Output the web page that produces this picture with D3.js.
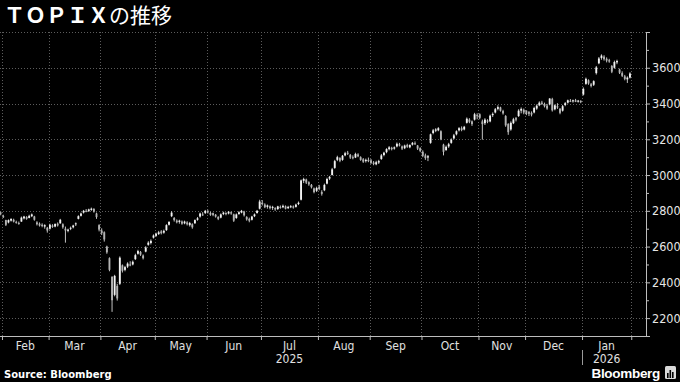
<!DOCTYPE html>
<html>
<head>
<meta charset="utf-8">
<script src="https://cdn.jsdelivr.net/npm/d3@7"></script>
<style>
  body { margin: 0; background: #000; }
  .ax text { font-family: "DejaVu Sans Condensed", "DejaVu Sans", sans-serif; font-stretch: condensed; }
</style>
</head>
<body>
<svg id="chart" width="680" height="382"></svg>
<script>
// daily candles, [open, high, low, close], one array per month (trading days only)
const jan25 = [[2790, 2795, 2775, 2788]];
const feb25 = [
  [2770, 2778, 2760, 2765], [2748, 2750, 2715, 2722], [2735, 2752, 2730, 2748], [2745, 2758, 2740, 2755],
  [2750, 2756, 2735, 2740], [2738, 2745, 2728, 2735], [2732, 2740, 2722, 2728], [2740, 2768, 2738, 2762],
  [2758, 2772, 2752, 2768], [2765, 2770, 2750, 2755], [2760, 2778, 2758, 2772], [2770, 2785, 2765, 2780],
  [2768, 2772, 2745, 2750], [2735, 2742, 2718, 2725], [2728, 2735, 2712, 2718], [2722, 2730, 2708, 2715],
  [2712, 2725, 2700, 2720], [2705, 2710, 2678, 2690]];
const mar25 = [
  [2700, 2728, 2695, 2722], [2718, 2725, 2705, 2710], [2712, 2730, 2708, 2726], [2728, 2735, 2712, 2718],
  [2730, 2755, 2728, 2750], [2725, 2730, 2700, 2708], [2700, 2712, 2622, 2690], [2688, 2700, 2680, 2695],
  [2700, 2712, 2692, 2705], [2708, 2722, 2702, 2718], [2725, 2735, 2715, 2730], [2755, 2775, 2752, 2770],
  [2772, 2790, 2768, 2785], [2790, 2805, 2785, 2800], [2800, 2810, 2792, 2796], [2798, 2812, 2794, 2808],
  [2805, 2818, 2800, 2812], [2810, 2815, 2790, 2795], [2785, 2790, 2755, 2765], [2720, 2725, 2685, 2695]];
const apr25 = [
  [2690, 2702, 2665, 2675], [2680, 2685, 2628, 2640], [2600, 2605, 2560, 2568], [2535, 2540, 2462, 2470],
  [2430, 2435, 2235, 2300], [2330, 2442, 2322, 2436], [2380, 2392, 2298, 2310], [2392, 2545, 2385, 2538],
  [2495, 2500, 2455, 2465], [2470, 2492, 2462, 2485], [2488, 2512, 2480, 2505], [2500, 2518, 2490, 2496],
  [2500, 2522, 2495, 2515], [2530, 2560, 2525, 2552], [2560, 2582, 2555, 2575], [2570, 2575, 2548, 2555],
  [2550, 2556, 2528, 2535], [2572, 2602, 2568, 2595], [2610, 2630, 2605, 2622], [2620, 2640, 2612, 2632],
  [2650, 2668, 2645, 2662]];
const may25 = [
  [2660, 2678, 2655, 2672], [2670, 2688, 2665, 2680], [2685, 2692, 2668, 2675], [2678, 2695, 2672, 2688],
  [2692, 2725, 2688, 2720], [2722, 2742, 2718, 2738], [2770, 2798, 2765, 2790], [2760, 2765, 2740, 2748],
  [2745, 2752, 2730, 2736], [2738, 2750, 2728, 2745], [2740, 2746, 2722, 2728], [2730, 2745, 2725, 2740],
  [2735, 2742, 2718, 2725], [2720, 2738, 2712, 2732], [2725, 2730, 2700, 2708], [2730, 2752, 2728, 2748],
  [2750, 2765, 2745, 2758], [2768, 2790, 2762, 2785], [2780, 2792, 2772, 2776], [2788, 2805, 2782, 2800]];
const jun25 = [
  [2798, 2806, 2785, 2792], [2788, 2795, 2772, 2778], [2780, 2790, 2770, 2785], [2778, 2782, 2762, 2768],
  [2765, 2770, 2748, 2755], [2762, 2785, 2758, 2780], [2782, 2795, 2776, 2790], [2788, 2792, 2775, 2782],
  [2785, 2798, 2780, 2795], [2792, 2796, 2778, 2785], [2780, 2784, 2738, 2745], [2760, 2785, 2755, 2780],
  [2782, 2798, 2778, 2792], [2790, 2805, 2786, 2800], [2795, 2800, 2768, 2775], [2765, 2770, 2745, 2752],
  [2755, 2762, 2736, 2745], [2750, 2772, 2746, 2768], [2770, 2785, 2765, 2780], [2788, 2805, 2784, 2800],
  [2812, 2862, 2808, 2852]];
const jul25 = [
  [2845, 2860, 2830, 2838], [2835, 2842, 2815, 2820], [2822, 2835, 2812, 2830], [2825, 2830, 2808, 2815],
  [2818, 2828, 2805, 2822], [2815, 2820, 2800, 2808], [2810, 2828, 2805, 2825], [2822, 2830, 2812, 2818],
  [2820, 2835, 2815, 2828], [2825, 2830, 2808, 2812], [2815, 2828, 2810, 2822], [2820, 2832, 2815, 2826],
  [2824, 2830, 2812, 2818], [2822, 2840, 2818, 2835], [2838, 2852, 2832, 2845], [2862, 2975, 2858, 2970],
  [2968, 2985, 2955, 2978], [2975, 2980, 2950, 2958], [2960, 2965, 2940, 2948], [2945, 2950, 2925, 2932],
  [2925, 2930, 2898, 2905], [2912, 2935, 2905, 2928]];
const aug25 = [
  [2935, 2945, 2915, 2922], [2905, 2915, 2885, 2895], [2915, 2952, 2910, 2945], [2952, 2985, 2948, 2978],
  [2980, 2995, 2972, 2990], [3000, 3040, 2998, 3032], [3040, 3085, 3035, 3078], [3085, 3108, 3078, 3100],
  [3095, 3100, 3072, 3080], [3085, 3112, 3080, 3108], [3110, 3130, 3105, 3122], [3125, 3135, 3112, 3118],
  [3112, 3118, 3090, 3098], [3100, 3110, 3088, 3095], [3098, 3125, 3095, 3118], [3115, 3122, 3100, 3105],
  [3100, 3105, 3080, 3085], [3088, 3095, 3068, 3075], [3078, 3092, 3070, 3085], [3085, 3098, 3072, 3078]];
const sep25 = [
  [3082, 3090, 3062, 3068], [3070, 3078, 3055, 3062], [3060, 3080, 3055, 3072], [3070, 3085, 3062, 3078],
  [3090, 3118, 3085, 3110], [3112, 3130, 3105, 3125], [3128, 3150, 3122, 3145], [3145, 3162, 3138, 3155],
  [3152, 3158, 3138, 3145], [3148, 3160, 3142, 3155], [3160, 3182, 3155, 3175], [3172, 3180, 3160, 3165],
  [3160, 3165, 3140, 3148], [3150, 3170, 3145, 3165], [3168, 3175, 3152, 3158], [3155, 3172, 3150, 3168],
  [3170, 3185, 3165, 3180], [3178, 3188, 3168, 3175], [3165, 3168, 3140, 3148], [3150, 3155, 3128, 3135]];
const oct25 = [
  [3130, 3138, 3100, 3108], [3110, 3120, 3085, 3095], [3098, 3112, 3078, 3105], [3180, 3232, 3175, 3228],
  [3235, 3258, 3228, 3250], [3248, 3262, 3240, 3255], [3250, 3268, 3245, 3262], [3245, 3250, 3195, 3200],
  [3170, 3175, 3110, 3130], [3140, 3165, 3135, 3158], [3160, 3180, 3152, 3172], [3180, 3205, 3175, 3198],
  [3205, 3230, 3200, 3222], [3228, 3250, 3222, 3245], [3250, 3268, 3244, 3262], [3262, 3272, 3245, 3252],
  [3255, 3275, 3250, 3270], [3292, 3322, 3288, 3315], [3310, 3318, 3290, 3298], [3300, 3305, 3275, 3285],
  [3310, 3348, 3305, 3340], [3335, 3345, 3312, 3330]];
const nov25 = [
  [3340, 3345, 3312, 3320], [3300, 3310, 3198, 3285], [3290, 3318, 3280, 3310], [3305, 3312, 3290, 3298],
  [3300, 3338, 3295, 3332], [3335, 3350, 3325, 3342], [3350, 3375, 3345, 3368], [3370, 3390, 3362, 3380],
  [3378, 3382, 3355, 3360], [3358, 3365, 3338, 3345], [3330, 3335, 3270, 3278], [3285, 3290, 3225, 3240],
  [3255, 3300, 3248, 3292], [3290, 3320, 3285, 3312], [3318, 3325, 3300, 3310], [3330, 3368, 3325, 3360],
  [3360, 3378, 3345, 3370], [3365, 3372, 3340, 3350]];
const dec25 = [
  [3360, 3362, 3335, 3342], [3345, 3358, 3330, 3350], [3348, 3356, 3328, 3338], [3350, 3382, 3345, 3375],
  [3372, 3395, 3365, 3388], [3390, 3412, 3385, 3405], [3405, 3415, 3392, 3398], [3398, 3405, 3378, 3385],
  [3388, 3398, 3365, 3372], [3395, 3430, 3390, 3428], [3425, 3432, 3355, 3362], [3368, 3395, 3362, 3390],
  [3385, 3402, 3370, 3378], [3370, 3375, 3340, 3348], [3360, 3392, 3355, 3385], [3392, 3408, 3385, 3402],
  [3405, 3422, 3400, 3418], [3415, 3425, 3408, 3412], [3412, 3422, 3405, 3418], [3418, 3426, 3408, 3410],
  [3412, 3420, 3405, 3416], [3415, 3418, 3402, 3408]];
const jan26 = [
  [3450, 3490, 3445, 3482], [3510, 3545, 3505, 3538], [3530, 3535, 3505, 3512], [3508, 3515, 3490, 3498],
  [3505, 3530, 3498, 3525], [3570, 3610, 3562, 3602], [3625, 3660, 3620, 3652], [3655, 3675, 3645, 3668],
  [3662, 3670, 3640, 3648], [3650, 3658, 3630, 3640], [3642, 3650, 3628, 3635], [3610, 3615, 3570, 3578],
  [3600, 3640, 3595, 3632], [3630, 3645, 3620, 3638], [3590, 3595, 3565, 3572], [3570, 3580, 3548, 3555],
  [3552, 3560, 3530, 3538], [3535, 3552, 3515, 3545], [3545, 3575, 3540, 3568]];

const monthData = [jan25, feb25, mar25, apr25, may25, jun25, jul25, aug25, sep25, oct25, nov25, dec25, jan26];
const monthLabels = ["", "Feb", "Mar", "Apr", "May", "Jun", "Jul", "Aug", "Sep", "Oct", "Nov", "Dec", "Jan"];
const yearLabels = [{ month: 6, text: "2025" }, { month: 12, text: "2026" }];
const yTicks = [2200, 2400, 2600, 2800, 3000, 3200, 3400, 3600, 3800];
const yMinor = [2100, 2300, 2500, 2700, 2900, 3100, 3300, 3500, 3700];

const svg = d3.select("#chart");
svg.append("rect").attr("width", 680).attr("height", 382).attr("fill", "#000");

const plot = { left: 0, right: 646, top: 32, bottom: 336 };

// flatten into one list, remember where each month starts
const candles = [];
const monthStart = [];
monthData.forEach(rows => {
  monthStart.push(candles.length);
  rows.forEach(r => candles.push({ i: candles.length, o: r[0], h: r[1], l: r[2], c: r[3] }));
});
monthStart.push(candles.length); // next month boundary (Feb 2026)
const n = candles.length;

const x = d3.scaleLinear().domain([-0.27, n + 5.2]).range([plot.left, plot.right]);
const y = d3.scaleLinear().domain([2100, 3800]).range([plot.bottom, plot.top]);
const step = x(1) - x(0);

// boundaries between months (skip the first partial month start)
const bounds = monthStart.slice(1).map(s => s - 0.5);

// grid
svg.append("g").selectAll("line")
  .data(yTicks)
  .join("line")
  .attr("x1", plot.left).attr("x2", plot.right)
  .attr("y1", d => Math.round(y(d)) + 0.5).attr("y2", d => Math.round(y(d)) + 0.5)
  .attr("stroke", "#5c5c5c").attr("stroke-dasharray", "1,2");

svg.append("g").selectAll("line")
  .data(bounds)
  .join("line")
  .attr("x1", d => Math.round(x(d)) + 0.5).attr("x2", d => Math.round(x(d)) + 0.5)
  .attr("y1", plot.top).attr("y2", plot.bottom)
  .attr("stroke", "#5c5c5c").attr("stroke-dasharray", "1,2");

// candles
const cg = svg.append("g");
cg.selectAll("line")
  .data(candles)
  .join("line")
  .attr("x1", d => x(d.i)).attr("x2", d => x(d.i))
  .attr("y1", d => y(d.h)).attr("y2", d => y(d.l))
  .attr("stroke", "#d8d8d8").attr("stroke-width", 0.9);

cg.selectAll("rect")
  .data(candles)
  .join("rect")
  .attr("x", d => x(d.i) - step * 0.36)
  .attr("width", step * 0.72)
  .attr("y", d => y(Math.max(d.o, d.c)))
  .attr("height", d => Math.max(1, Math.abs(y(d.o) - y(d.c))))
  .attr("fill", d => d.c >= d.o ? "#f2f2f2" : "#b4b4b4");

// right axis
const yAxis = svg.append("g")
  .attr("class", "ax")
  .attr("transform", `translate(${plot.right},0)`)
  .call(d3.axisRight(y).tickValues(yTicks).tickSize(4).tickPadding(2)
    .tickFormat(d => d === 3800 ? "" : d));
yAxis.select(".domain").attr("stroke", "#bdbdbd");
yAxis.selectAll(".tick line").attr("stroke", "#bdbdbd");
yAxis.selectAll("text").attr("fill", "#e6e6e6").attr("font-size", 12.5);

const yMinorAxis = svg.append("g")
  .attr("transform", `translate(${plot.right},0)`)
  .call(d3.axisRight(y).tickValues(yMinor).tickSize(3).tickFormat(""));
yMinorAxis.select(".domain").remove();
yMinorAxis.selectAll(".tick line").attr("stroke", "#bdbdbd");

// bottom axis: month boundaries
const xAxis = svg.append("g")
  .attr("transform", `translate(0,${plot.bottom})`)
  .call(d3.axisBottom(x).tickValues(bounds).tickSize(4).tickSizeOuter(0).tickFormat(""));
xAxis.select(".domain").attr("stroke", "#bdbdbd").attr("d", `M${plot.left},0.5H${plot.right}`);
xAxis.selectAll(".tick line").attr("stroke", "#bdbdbd");

const labelFont = '"DejaVu Sans Condensed", "DejaVu Sans", sans-serif';
const monthMid = m => x((monthStart[m] + monthStart[m + 1] - 1) / 2);

svg.append("g").selectAll("text")
  .data(monthLabels.map((t, m) => ({ t, m })).filter(d => d.t))
  .join("text")
  .attr("x", d => monthMid(d.m))
  .attr("y", 349.5)
  .attr("text-anchor", "middle")
  .attr("font-family", labelFont).attr("font-stretch", "condensed")
  .attr("font-size", 12).attr("fill", "#e0e0e0")
  .text(d => d.t);

svg.append("g").selectAll("text")
  .data(yearLabels)
  .join("text")
  .attr("x", d => monthMid(d.month))
  .attr("y", 362.5)
  .attr("text-anchor", "middle")
  .attr("font-family", labelFont).attr("font-stretch", "condensed")
  .attr("font-size", 12).attr("fill", "#e0e0e0")
  .text(d => d.text);

// year separator
const sepX = Math.round(x(monthStart[12] - 0.5)) + 0.5;
svg.append("line")
  .attr("x1", sepX).attr("x2", sepX).attr("y1", 350).attr("y2", 365)
  .attr("stroke", "#9a9a9a");

// title
const title = svg.append("text")
  .attr("x", 4).attr("y", 23)
  .attr("font-family", '"Noto Sans CJK JP", sans-serif')
  .attr("font-size", 21).attr("fill", "#fff");
title.append("tspan").attr("font-weight", "bold").text("ＴＯＰＩＸ");
title.append("tspan").attr("font-weight", "normal").text("の推移");

// footer
svg.append("text")
  .attr("x", 4).attr("y", 378)
  .attr("font-family", '"DejaVu Sans", sans-serif').attr("font-weight", "bold")
  .attr("font-size", 10).attr("fill", "#fff")
  .text("Source: Bloomberg");

svg.append("text")
  .attr("x", 660).attr("y", 378)
  .attr("text-anchor", "end")
  .attr("font-family", '"Liberation Sans", Arial, sans-serif').attr("font-weight", "bold")
  .attr("font-size", 13.5).attr("fill", "#fff")
  .attr("letter-spacing", -0.3)
  .text("Bloomberg");

const logo = svg.append("g").attr("transform", "translate(665,366)");
logo.append("rect").attr("width", 11).attr("height", 13).attr("rx", 1.5).attr("fill", "#d9d9d9");
logo.selectAll(".b")
  .data([[2, 7, 5], [4.5, 4, 8], [7, 6, 6]])
  .join("rect")
  .attr("x", d => d[0]).attr("y", d => d[1]).attr("width", 1.6).attr("height", d => d[2])
  .attr("fill", "#000");
</script>
</body>
</html>
